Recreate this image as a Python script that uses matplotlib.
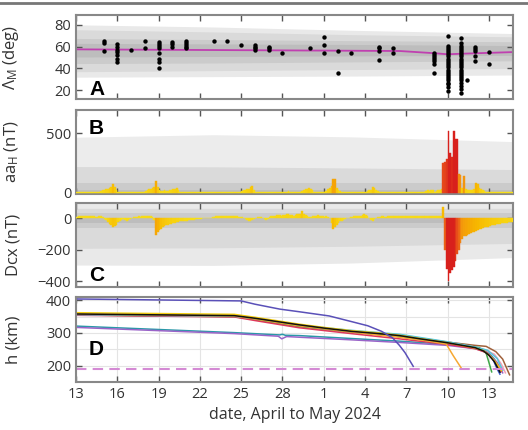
import numpy as np
import matplotlib
matplotlib.use('Agg')
import matplotlib.pyplot as plt
from matplotlib.colors import LinearSegmentedColormap, Normalize
from matplotlib.lines import Line2D

plt.rcParams['font.family'] = ['Open Sans', 'DejaVu Sans']
plt.rcParams['mathtext.fontset'] = 'custom'
plt.rcParams['mathtext.rm'] = 'Open Sans'
plt.rcParams['mathtext.it'] = 'Open Sans'

# day 0 = 13 April 2024
tick_days = [0, 3, 6, 9, 12, 15, 18, 21, 24, 27, 30]
tick_labels = ['13', '16', '19', '22', '25', '28', '1', '4', '7', '10', '13']
xmax = 31.75

# --- panel A: magnetic latitude of points
lam_days = [2, 2, 2,
            3, 3, 3, 3, 3, 3, 3,
            4, 5, 5,
            6, 6, 6, 6, 6, 6, 6, 6,
            7, 7, 7,
            8, 8, 8, 8, 8,
            10, 11, 12, 13, 13, 13, 13, 14, 14, 14, 15,
            17, 18, 18, 18, 19, 19, 20, 22, 22, 22, 22, 23, 23,
            26, 26, 26, 26, 26, 26, 26,
            29, 29, 29, 29, 29, 30, 30, 28.4]
lam_vals = [65, 63, 56,
            62, 60, 57, 55, 52, 49, 46,
            57, 65, 58.5,
            64.5, 62.5, 60.5, 58.5, 54.5, 49, 46, 40.5,
            64.5, 62.5, 60,
            65, 63, 61.5, 60, 58.5,
            65, 65, 61.5, 61.5, 60, 58.5, 57, 60, 58.5, 57, 54.5,
            59, 68.5, 61.5, 54, 56, 36, 54.5, 60, 58.5, 56, 47.5, 58.5, 54.5,
            54.5, 52.5, 50.5, 48.5, 46.5, 44, 36,
            59.5, 58, 56, 51.5, 46.5, 55.5, 44.5, 29]
# dense vertical clusters during the storm (10 and 11 May)
storm1_day = 27
storm1_vals = [70, 61, 59, 57, 55, 53, 51, 49, 47, 45, 43, 41, 39, 37, 35,
               33, 31, 29, 27, 26, 23, 19]
storm2_day = 28
storm2_vals = [67.5, 63, 61, 59, 57, 55, 53, 51, 49, 47, 45, 43, 41, 39, 37,
               35, 33, 31, 29, 27, 24, 21, 17.5]
lam_mean_t = [0, 8, 16, 23.5, 26, 27, 28, 31.75]
lam_mean = [57.5, 57, 56.5, 56, 54, 53, 53.5, 55]

band_t = [0, 10, 20, 31.75]
a_bands = [
    ([32, 32.5, 33, 34], [80, 78, 75, 72], '#e9e9e9'),
    ([37, 38, 39, 40], [75.5, 73.5, 71, 69], '#dadada'),
    ([44.5, 45, 46, 47], [67.5, 66.5, 65.5, 64.5], '#cbcbcb'),
    ([50.5, 51, 51.5, 52], [63, 62.5, 62, 61], '#bdbdbd'),
]

# --- panel B: aaH, 3-hourly values, one row per day
aa_vals = [
    [5, 5, 5, 5, 5, 5, 5, 5],
    [5, 5, 8, 8, 10, 10, 15, 20],
    [25, 30, 30, 40, 45, 70, 50, 20],
    [10, 8, 8, 5, 5, 5, 5, 5],
    [5, 5, 5, 5, 8, 8, 10, 10],
    [15, 20, 30, 35, 40, 50, 100, 45],
    [20, 15, 15, 20, 15, 15, 20, 20],
    [30, 35, 40, 20, 10, 8, 8, 5],
    [5, 5, 8, 8, 10, 8, 5, 5],
    [5, 5, 5, 8, 8, 5, 5, 5],
    [5, 8, 10, 10, 8, 5, 5, 5],
    [5, 5, 5, 8, 10, 8, 5, 5],
    [15, 20, 25, 30, 35, 45, 55, 20],
    [10, 10, 10, 10, 8, 8, 5, 5],
    [5, 5, 5, 8, 8, 10, 10, 10],
    [10, 10, 10, 15, 10, 8, 8, 10],
    [10, 10, 10, 15, 25, 30, 35, 40],
    [30, 20, 10, 10, 10, 8, 8, 10],
    [10, 15, 30, 40, 60, 115, 115, 40],
    [20, 15, 10, 10, 8, 8, 8, 8],
    [8, 8, 10, 10, 10, 8, 8, 8],
    [10, 15, 20, 25, 45, 40, 20, 15],
    [10, 8, 5, 5, 5, 8, 8, 5],
    [5, 5, 8, 8, 5, 5, 5, 5],
    [5, 5, 5, 8, 8, 10, 8, 5],
    [10, 10, 10, 15, 20, 15, 20, 20],
    [10, 15, 20, 25, 30, 250, 260, 280],
    [520, 330, 300, 520, 450, 450, 160, 145],
    [40, 140, 30, 25, 20, 20, 25, 30],
    [85, 70, 40, 30, 20, 15, 10, 8],
    [8, 8, 8, 8, 8, 8, 5, 5],
    [5, 5, 5, 5, 5, 5],
]
b_bands = [
    ([0, 0, 0, 0], [467, 488, 470, 430], '#ececec'),
    ([0, 0, 0, 0], [220, 218, 208, 195], '#dadada'),
    ([0, 0, 0, 0], [80, 80, 80, 80], '#cbcbcb'),
    ([0, 0, 0, 0], [22, 22, 22, 22], '#bdbdbd'),
]

# --- panel C: Dcx, 3-hourly values, one row per day
dcx_vals = [
    [10, 12, 14, 15, 14, 12, 12, 14],
    [15, 14, 12, 10, 8, 12, 15, 10],
    [-5, -10, -25, -35, -45, -55, -50, -40],
    [-25, -15, -8, -5, -10, -15, -12, -5],
    [5, 8, 10, 10, 12, 10, 12, 14],
    [12, 14, 15, 12, 10, -10, -105, -90],
    [-75, -65, -55, -50, -45, -40, -35, -35],
    [-30, -30, -25, -25, -20, -20, -18, -15],
    [-15, -12, -10, -10, -8, -5, -5, -3],
    [-3, 0, 2, 3, 5, 3, 5, 8],
    [10, 12, 12, 14, 15, 15, 14, 12],
    [12, 14, 15, 14, 15, 12, 10, 8],
    [8, 5, -5, -10, -15, -15, -12, -5],
    [5, 8, 10, 8, 5, -5, -10, -5],
    [8, 12, 15, 18, 20, 22, 20, 18],
    [20, 22, 25, 25, 22, 20, 18, 20],
    [25, 28, 30, 45, 25, 20, 15, 10],
    [10, 12, 15, 18, 20, 18, 15, 12],
    [10, 12, 10, 5, -30, -70, -55, -40],
    [-30, -20, -15, -10, -5, 0, 5, 8],
    [10, 12, 15, 15, 12, 15, 20, 25],
    [20, 15, 5, -10, -15, -5, 5, 10],
    [10, 12, 12, 10, 10, 12, 12, 14],
    [14, 15, 14, 12, 14, 15, 14, 14],
    [15, 14, 12, 14, 15, 16, 15, 14],
    [14, 15, 16, 15, 14, 15, 16, 15],
    [15, 14, 15, 16, 15, 70, -200, -320],
    [-400, -350, -330, -310, -270, -230, -200, -160],
    [-130, -115, -110, -105, -100, -95, -90, -85],
    [-80, -75, -70, -65, -60, -58, -55, -52],
    [-48, -45, -42, -40, -38, -35, -33, -32],
    [-30, -28, -27, -26, -25, -24],
]
c_bands = [
    ([-298, -300, -285, -250], [150, 150, 150, 150], '#e9e9e9'),
    ([-191, -188, -178, -160], [64, 64, 64, 64], '#dadada'),
    ([-64, -64, -64, -64], [32, 32, 32, 32], '#cbcbcb'),
    ([-32, -32, -32, -32], [4, 4, 4, 4], '#bdbdbd'),
]

# --- panel D: altitude of satellites
h_indigo_t = [0, 12, 13, 14.8, 16.2, 18.4, 19.9, 21.2, 22.2, 23.0, 23.5, 23.9, 24.5]
h_indigo = [404, 398, 388, 373, 365, 352, 336, 322, 305, 285, 262, 240, 198]
h_teal_t = [0, 11.5, 14.8, 15.0, 15.2, 16.2, 20, 23.5, 27, 29, 29.8, 30.4, 30.8]
h_teal = [321, 301, 294, 296, 293, 292, 283, 275, 265, 255, 245, 220, 180]
h_purple_t = [0, 11.5, 14.7, 14.95, 15.3, 16.2, 20, 23.5, 27, 29, 29.9, 30.6, 31.0]
h_purple = [317, 298, 290, 282, 289, 287, 279, 271, 262, 252, 240, 210, 178]
h_brown_t = [0, 11.5, 13, 16.2, 20, 23.5, 27, 29, 29.8, 30.5, 31.0, 31.5]
h_brown = [357, 352, 344, 323, 305, 292, 272, 262, 259, 243, 220, 172]
h_pink_t = [0, 11.5, 13, 16.2, 20, 23.5, 27, 29.5, 30.4, 30.9, 31.2]
h_pink = [355, 350, 341, 320, 302, 288, 268, 252, 235, 205, 178]
h_blue_t = [0, 11.5, 13, 16.2, 20, 23.5, 27, 29.5, 30.2, 30.6, 30.8]
h_blue = [356, 351, 342, 321, 303, 290, 269, 250, 228, 190, 174]
h_green_t = [0, 11.5, 13, 16.2, 20, 23.5, 27, 29.3, 29.8, 30.0, 30.2]
h_green = [355, 350, 341, 320, 303, 289, 268, 255, 238, 210, 181]
h_red_t = [0, 11.5, 13, 16.2, 20, 23.5, 27, 29, 29.8, 30.4, 30.9]
h_red = [354, 349, 338, 316, 298, 282, 265, 252, 240, 215, 182]
h_cyan_t = [0, 11.5, 13, 16.2, 20, 23.5, 27, 29, 29.9, 30.6, 31.0]
h_cyan = [356, 351, 344, 324, 308, 296, 273, 257, 247, 222, 186]
h_orange_t = [0, 11.5, 13, 16.2, 20, 23.5, 25.5, 26.9, 27.4, 28.0]
h_orange = [358, 352, 343, 322, 303, 287, 276, 266, 231, 192]
h_yellow_t = [0, 11.5, 13, 16.2, 18, 20, 22, 23.5, 25, 27, 29, 29.6, 30.1, 30.5, 30.9]
h_yellow = [362, 357, 348, 327, 317, 307, 300, 293, 283, 270, 254, 246, 230, 210, 185]
h_black_t = [0, 11.5, 13, 16.2, 18, 20, 22, 23.5, 25, 27, 29, 29.6, 30.0, 30.4, 30.8]
h_black = [358, 353, 345, 325, 315, 305, 298, 292, 282, 270, 255, 245, 232, 212, 180]
h_limit = 190

sat_lines = [
    (h_teal_t, h_teal, '#2a98a8'),
    (h_purple_t, h_purple, '#9a64c8'),
    (h_brown_t, h_brown, '#a0603a'),
    (h_pink_t, h_pink, '#f2a0b8'),
    (h_blue_t, h_blue, '#3a5bd0'),
    (h_green_t, h_green, '#3fa848'),
    (h_red_t, h_red, '#e0385a'),
    (h_cyan_t, h_cyan, '#52c6da'),
    (h_orange_t, h_orange, '#f6a832'),
    (h_yellow_t, h_yellow, '#f2cc10'),
    (h_black_t, h_black, '#111111'),
    (h_indigo_t, h_indigo, '#5a50b8'),
]

cmap = LinearSegmentedColormap.from_list(
    'storm', ['#f7e21a', '#f7b800', '#f28a10', '#e8501a', '#d8201c'])

fig = plt.figure(figsize=(5.28, 4.3), dpi=100)
fig.add_artist(Line2D([0, 1], [0.994, 0.994], color='#777777', lw=2))

W, H = 528, 430
def box(top, bottom):
    return [76 / W, 1 - bottom / H, 437 / W, (bottom - top) / H]

axA = fig.add_axes(box(15, 99))
axB = fig.add_axes(box(110, 194))
axC = fig.add_axes(box(203, 287))
axD = fig.add_axes(box(297, 382))

for ax in (axA, axB, axC, axD):
    ax.set_xlim(0, xmax)
    ax.set_xticks(tick_days)
    ax.set_xticklabels([])
    ax.tick_params(direction='in', top=True, right=True, length=4, width=1,
                   color='#555555', labelsize=10.5, labelcolor='#333333')
    for s in ax.spines.values():
        s.set_color('#888888')
        s.set_linewidth(1.5)

# A
for lo, hi, c in a_bands:
    axA.fill_between(band_t, lo, hi, color=c, lw=0)
axA.plot(lam_mean_t, lam_mean, color='#c040b0', lw=1.3)
axA.scatter(lam_days, lam_vals, s=10, color='black', zorder=3, lw=0)
axA.scatter([storm1_day] * len(storm1_vals), storm1_vals, s=10, color='black', zorder=3, lw=0)
axA.scatter([storm2_day] * len(storm2_vals), storm2_vals, s=10, color='black', zorder=3, lw=0)
axA.set_ylim(12, 89)
axA.set_yticks([20, 40, 60, 80])
axA.set_ylabel(r'$\Lambda_{\rm M}$ (deg)', fontsize=12, color='#333333')
axA.text(0.03, 0.05, 'A', transform=axA.transAxes, fontsize=15,
         fontweight='bold', family='Liberation Sans')

# B
for lo, hi, c in b_bands:
    axB.fill_between(band_t, lo, hi, color=c, lw=0)
aa = np.concatenate([np.array(r, float) for r in aa_vals])
aa_t = np.arange(len(aa)) * 0.125
axB.bar(aa_t, aa, width=0.125, align='edge', color=cmap(Normalize(0, 320)(aa)),
        edgecolor=cmap(Normalize(0, 320)(aa)), lw=0.3, zorder=3)
axB.set_ylim(-11, 696)
axB.set_yticks([0, 500])
axB.set_ylabel(r'aa$_{\rm H}$ (nT)', fontsize=12, color='#333333')
axB.text(0.03, 0.72, 'B', transform=axB.transAxes, fontsize=15,
         fontweight='bold', family='Liberation Sans')

# C
for lo, hi, c in c_bands:
    axC.fill_between(band_t, lo, hi, color=c, lw=0)
dcx = np.concatenate([np.array(r, float) for r in dcx_vals])
dcx_t = np.arange(len(dcx)) * 0.125
dcx_col = cmap(Normalize(0, 300)(np.abs(dcx)))
axC.bar(dcx_t, dcx, width=0.125, align='edge', color=dcx_col,
        edgecolor=dcx_col, lw=0.3, zorder=3)
axC.set_ylim(-438, 98)
axC.set_yticks([-400, -200, 0])
axC.set_ylabel('Dcx (nT)', fontsize=12, color='#333333')
axC.text(0.03, 0.07, 'C', transform=axC.transAxes, fontsize=15,
         fontweight='bold', family='Liberation Sans')

# D
for t, h, c in sat_lines:
    axD.plot(t, h, color=c, lw=1.1)
axD.axhline(h_limit, color='#d48ad4', lw=1.5, ls=(0, (5, 3)))
axD.set_ylim(150, 410)
axD.set_yticks([200, 300, 400])
axD.set_yticks([250, 350], minor=True)
axD.grid(True, which='both', color='#e4e4e4', lw=0.8)
axD.set_axisbelow(True)
axD.tick_params(which='minor', length=0)
axD.set_ylabel('h (km)', fontsize=12, color='#333333')
axD.set_xticklabels(tick_labels)
axD.set_xlabel('date, April to May 2024', fontsize=11.5, color='#333333')
axD.text(0.03, 0.32, 'D', transform=axD.transAxes, fontsize=15,
         fontweight='bold', family='Liberation Sans')

for ax in (axA, axB, axC, axD):
    ax.yaxis.set_label_coords(-0.125, 0.5)

fig.savefig('out.png', dpi=100)
